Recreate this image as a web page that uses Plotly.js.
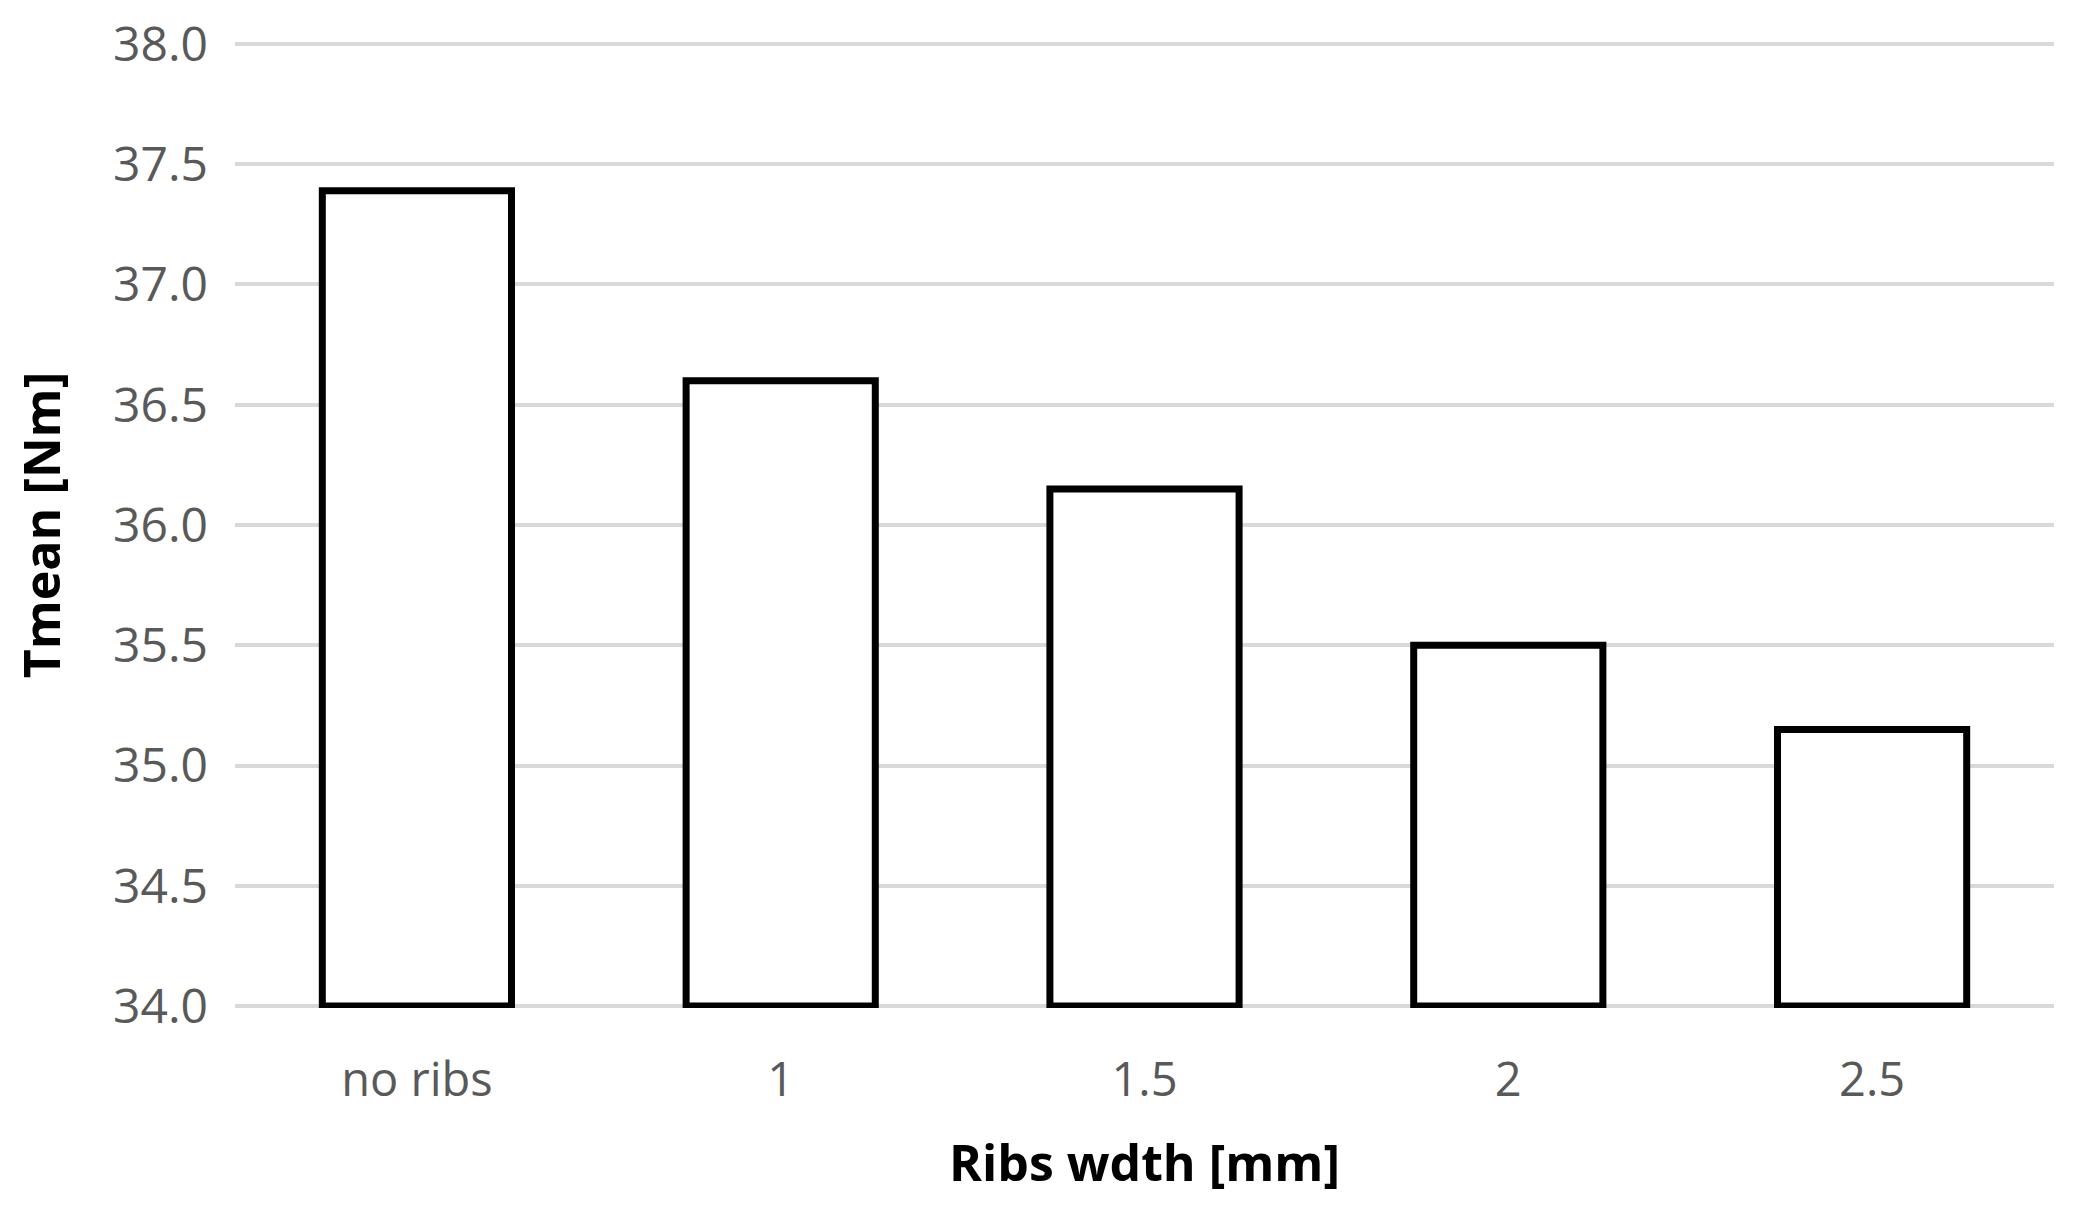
<!DOCTYPE html>
<html>
<head>
<meta charset="utf-8">
<script src="https://cdn.plot.ly/plotly-3.0.1.min.js"></script>
<style>html,body{margin:0;padding:0;background:#fff;}#chart{width:2098px;height:1217px;}</style>
</head>
<body>
<div id="chart"></div>
<script>
const categories = ["no ribs", "1", "1.5", "2", "2.5"];
const tmean = [37.39, 36.6, 36.15, 35.5, 35.15];
const baseValue = 34;
const yTicks = [34.0, 34.5, 35.0, 35.5, 36.0, 36.5, 37.0, 37.5, 38.0];
const yTickLabels = ["34.0", "34.5", "35.0", "35.5", "36.0", "36.5", "37.0", "37.5", "38.0"];

const trace = {
  type: "bar",
  x: categories,
  y: tmean.map(v => v - baseValue),
  base: baseValue,
  marker: { color: "#ffffff", line: { color: "#000000", width: 7 } },
  hoverinfo: "skip"
};

const layout = {
  width: 2098, height: 1217,
  margin: { l: 235, r: 44, t: 42, b: 209 },
  paper_bgcolor: "#ffffff", plot_bgcolor: "#ffffff",
  showlegend: false,
  bargap: 0.48,
  font: { family: "Open Sans, sans-serif" },
  xaxis: {
    type: "category",
    showgrid: false, showline: false, zeroline: false,
    ticks: "",
    ticklabelstandoff: 40,
    tickfont: { size: 47, color: "#595959", family: "Open Sans, sans-serif" },
    title: { text: "<b>Ribs wdth [mm]</b>", standoff: 36, font: { size: 50, color: "#000000", family: "Open Sans, sans-serif" } }
  },
  yaxis: {
    range: [33.992, 38.008],
    tickvals: yTicks, ticktext: yTickLabels,
    showgrid: true, gridcolor: "#d9d9d9", gridwidth: 4,
    showline: false, zeroline: false,
    ticks: "",
    ticklabelstandoff: 26,
    tickfont: { size: 48, color: "#595959", family: "Open Sans, sans-serif" },
    title: { text: "<b>Tmean [Nm]</b>", standoff: 36, font: { size: 50, color: "#000000", family: "Open Sans, sans-serif" } }
  }
};

Plotly.newPlot("chart", [trace], layout, { displayModeBar: false, staticPlot: true });
</script>
</body>
</html>
